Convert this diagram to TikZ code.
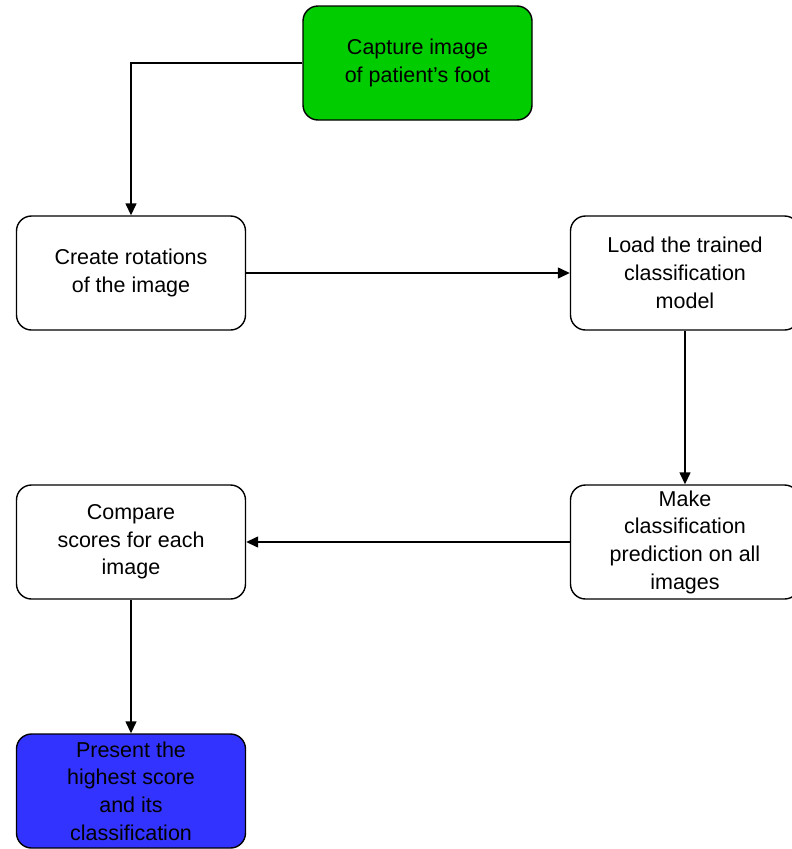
\documentclass[tikz,border=0pt]{standalone}
\usepackage{fontspec}
\setmainfont{Liberation Sans}
\usetikzlibrary{arrows.meta,positioning}
\definecolor{capgreen}{RGB}{0,204,0}
\definecolor{resblue}{RGB}{51,51,255}

\begin{document}
\begin{tikzpicture}[x=1pt,y=-1pt,
  stepbox/.style={draw,rounded corners=15pt,line width=1.4pt,minimum width=229pt,minimum height=114pt,
    align=center,inner sep=0pt,font=\fontsize{21.5}{27.7}\selectfont},
  flow/.style={-{Triangle[length=12pt,width=11pt]},line width=1.4pt}]
\useasboundingbox (0,0) rectangle (792,849);

% Steps
\node[stepbox,fill=capgreen] (capture) at (417.5,63) {Capture image\\of patient's foot};
\node[stepbox] (rotate) at (131,273) {Create rotations\\of the image};
\node[stepbox] (load) at (685,273) {Load the trained\\classification\\model};
\node[stepbox] (predict) at (685,542) {Make\\classification\\prediction on all\\images};
\node[stepbox] (compare) at (131,542) {Compare\\scores for each\\image};
\node[stepbox,fill=resblue] (present) at (131,791) {Present the\\highest score\\and its\\classification};

% Flow
\draw[flow] (capture.west) -| (rotate.north);
\draw[flow] (rotate) -- (load);
\draw[flow] (load) -- (predict);
\draw[flow] (predict) -- (compare);
\draw[flow] (compare) -- (present);
\end{tikzpicture}
\end{document}
